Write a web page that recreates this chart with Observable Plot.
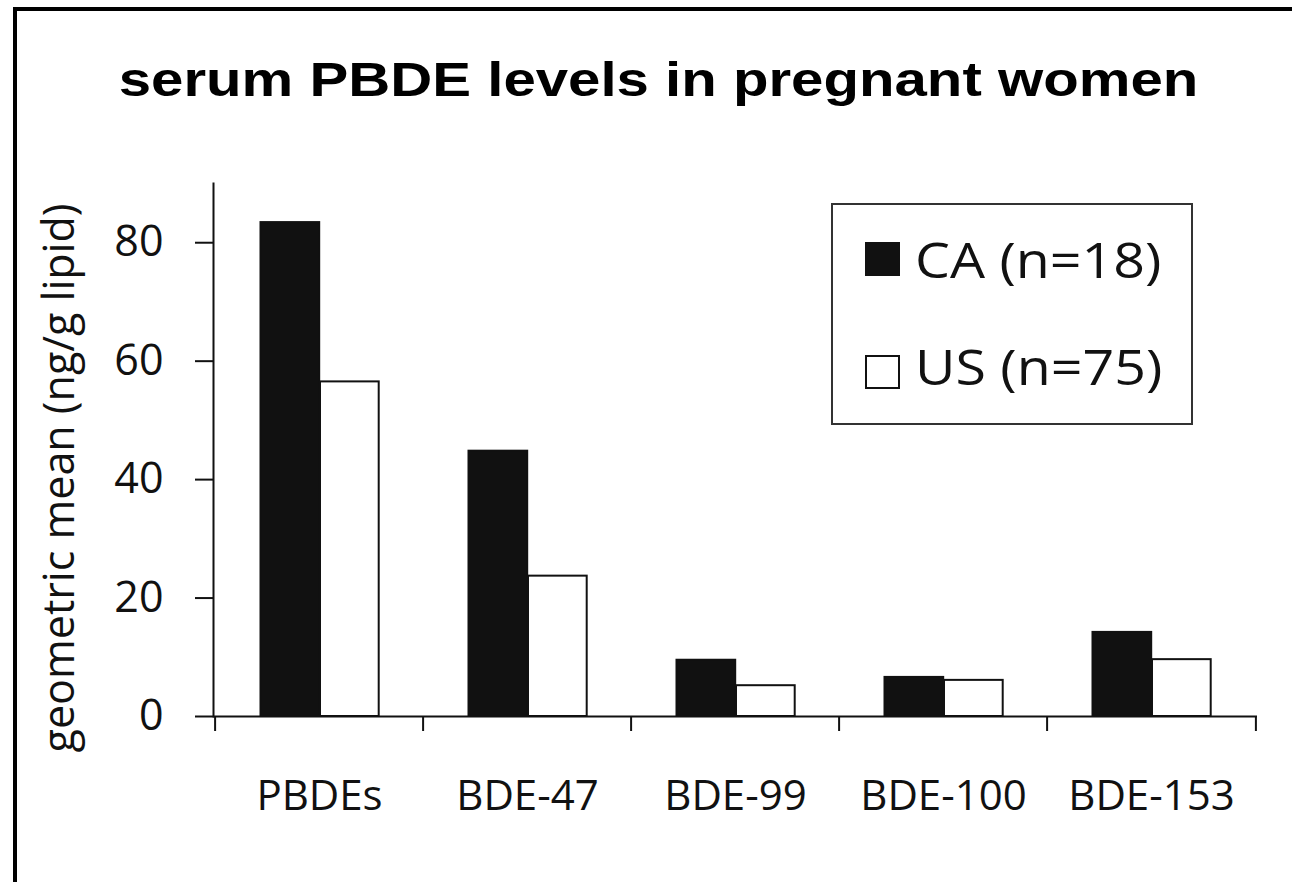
<!DOCTYPE html>
<html>
<head>
<meta charset="utf-8">
<script src="https://cdn.jsdelivr.net/npm/d3@7"></script>
<script src="https://cdn.jsdelivr.net/npm/@observablehq/plot@0.6"></script>
<style>
  html, body { margin: 0; padding: 0; background: #fff; }
  #wrap { position: relative; width: 1292px; height: 882px; overflow: hidden; background: #fff; }
  #chart { position: absolute; left: 0; top: 0; }
  #border { position: absolute; left: 13px; top: 7px; width: 1400px; height: 1000px;
            border-left: 4px solid #000; border-top: 4px solid #000; pointer-events: none; }
  #title { position: absolute; left: 0; width: 1317px; top: 55px; text-align: center;
           font-family: "Liberation Sans", Arial, sans-serif; font-weight: bold; font-size: 49px;
           line-height: 49px; color: #000; white-space: nowrap;
           transform: scaleX(1.187); transform-origin: 658.5px 50%; }
  #legend { position: absolute; left: 831px; top: 203px; width: 358px; height: 218px;
            border: 2px solid #333; background: #fff; }
  .sw { position: absolute; box-sizing: border-box; }
  .lt { position: absolute; font-family: "Open Sans", sans-serif; font-size: 50px; line-height: 50px;
        color: #111; white-space: nowrap; transform: scaleX(1.11); transform-origin: 0 50%; }
</style>
</head>
<body>
<div id="wrap">
  <div id="chart"></div>
  <div id="title"></div>
  <div id="legend"></div>
  <div id="border"></div>
</div>
<script>
// ---- data ----
const titleText = "serum PBDE levels in pregnant women";
const yLabel = "geometric mean (ng/g lipid)";
const categories = ["PBDEs", "BDE-47", "BDE-99", "BDE-100", "BDE-153"];
const caValues = [83.4, 44.8, 9.5, 6.6, 14.2];
const usValues = [56.5, 23.7, 5.2, 6.1, 9.6];
const seriesLabels = ["CA (n=18)", "US (n=75)"];
const seriesFills = ["#111", "#fff"];
const yTicks = [0, 20, 40, 60, 80];

const rows = categories.map((c, i) => ({category: c, CA: caValues[i], US: usValues[i]}));

// ---- layout ----
const W = 1292, H = 882;
const mL = 213, mR = 35, mT = 183, mB = 166;
const bw = (W - mL - mR) / categories.length;   // band width
const barW = 59.5, gap = 45.5;

const chart = Plot.plot({
  width: W, height: H,
  marginLeft: mL, marginRight: mR, marginTop: mT, marginBottom: mB,
  style: {background: "transparent", fontFamily: "'Open Sans', sans-serif", color: "#111"},
  x: {domain: categories, padding: 0, axis: null},
  y: {domain: [0, 90], axis: null},
  marks: [
    Plot.barY(rows, {x: "category", y: "CA", fill: seriesFills[0], stroke: "#111", strokeWidth: 2,
      insetLeft: gap, insetRight: bw - gap - barW}),
    Plot.barY(rows, {x: "category", y: "US", fill: seriesFills[1], stroke: "#111", strokeWidth: 2,
      insetLeft: gap + barW, insetRight: bw - gap - 2 * barW}),
    Plot.frame({anchor: "left", stroke: "#111", strokeWidth: 2}),
    Plot.ruleY([0], {stroke: "#111", strokeWidth: 2}),
    Plot.axisY({ticks: yTicks, tickSize: 18, tickPadding: 32, fontSize: 43, strokeWidth: 2, label: null, stroke: "#111"}),
    Plot.axisX({tickSize: 0, tickPadding: 64, fontSize: 42, label: null}),
    Plot.ruleX(categories, {x: d => d, y1: 0, y2: 0, dx: -bw / 2, insetBottom: -15, stroke: "#111", strokeWidth: 2}),
    Plot.ruleX(categories.slice(-1), {x: d => d, y1: 0, y2: 0, dx: bw / 2, insetBottom: -15, stroke: "#111", strokeWidth: 2}),
    Plot.text([yLabel], {frameAnchor: "left", rotate: -90, lineAnchor: "bottom", textAnchor: "middle",
      dx: 73 - mL, dy: 28, fontSize: 43, fill: "#111"})
  ]
});
document.getElementById("chart").appendChild(chart);

document.getElementById("title").textContent = titleText;

// ---- legend ----
const legend = document.getElementById("legend");
const lx = 831, ly = 203;
const swTops = [242, 355], textTops = [234, 341];
seriesLabels.forEach((lab, i) => {
  const sw = document.createElement("div");
  sw.className = "sw";
  sw.style.left = (865 - lx - 2) + "px";
  sw.style.top = (swTops[i] - ly - 2) + "px";
  sw.style.width = "35px";
  sw.style.height = "34px";
  sw.style.background = seriesFills[i];
  sw.style.border = "2px solid #111";
  legend.appendChild(sw);
  const t = document.createElement("div");
  t.className = "lt";
  t.style.left = (915 - lx - 2) + "px";
  t.style.top = (textTops[i] - ly - 2) + "px";
  t.textContent = lab;
  legend.appendChild(t);
});
</script>
</body>
</html>
